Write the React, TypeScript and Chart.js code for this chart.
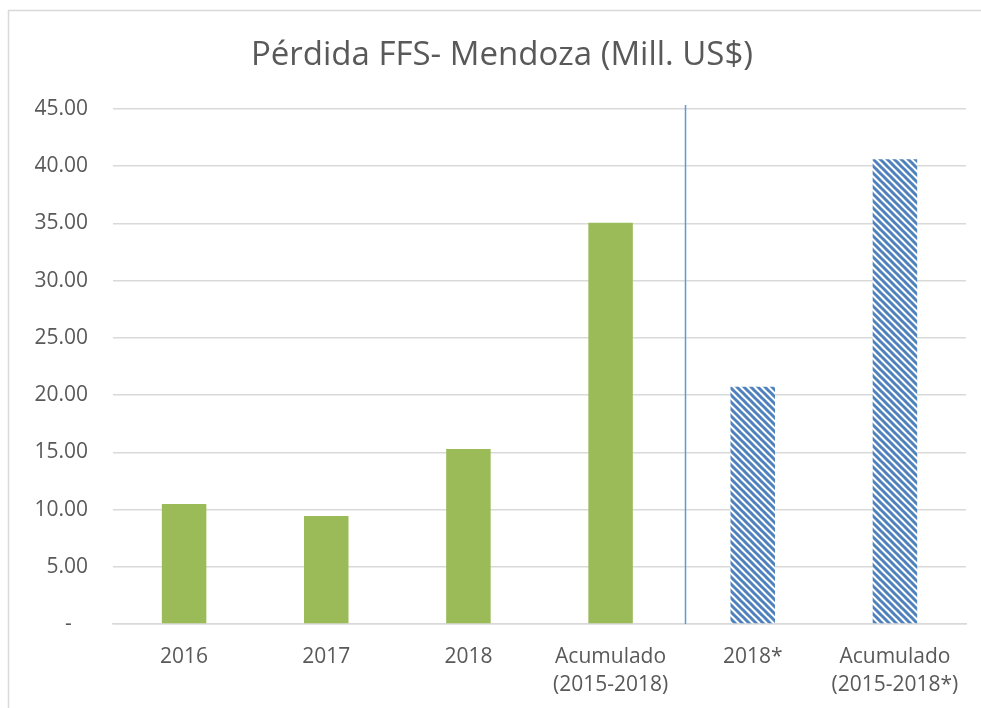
import React, { useEffect, useRef } from "react";
import { Chart, registerables } from "chart.js";

Chart.register(...registerables);

const title = "Pérdida FFS- Mendoza (Mill. US$)";
const categories: (string | string[])[] = [
  "2016",
  "2017",
  "2018",
  ["Acumulado", "(2015-2018)"],
  "2018*",
  ["Acumulado", "(2015-2018*)"],
];
const values = [10.48, 9.44, 15.29, 35.07, 20.74, 40.6];
const hatched = [false, false, false, false, true, true];
const yMin = 0;
const yMax = 45;
const yStep = 5;

const FONT = "'Open Sans', sans-serif";
const TEXT = "#595959";
const GREEN = "#9bbb59";
const BLUE = "#4f81bd";

function makePattern(): CanvasPattern | string {
  const c = document.createElement("canvas");
  c.width = 7;
  c.height = 7;
  const ctx = c.getContext("2d");
  if (!ctx) return BLUE;
  ctx.fillStyle = "#ffffff";
  ctx.fillRect(0, 0, 7, 7);
  ctx.strokeStyle = BLUE;
  ctx.lineWidth = 3;
  ctx.beginPath();
  for (const k of [-7, 0, 7]) {
    ctx.moveTo(k - 1, -1);
    ctx.lineTo(k + 8, 8);
  }
  ctx.stroke();
  return ctx.createPattern(c, "repeat") || BLUE;
}

export default function App() {
  const ref = useRef<HTMLCanvasElement | null>(null);

  useEffect(() => {
    if (!ref.current) return;
    const pattern = makePattern();
    const frame = {
      id: "frame",
      beforeDraw(chart: any) {
        const ctx = chart.ctx;
        ctx.save();
        ctx.fillStyle = "#ffffff";
        ctx.fillRect(0, 0, chart.width, chart.height);
        ctx.strokeStyle = "#d9d9d9";
        ctx.lineWidth = 1.5;
        ctx.strokeRect(8.5, 10.5, 2000, 2000);
        ctx.fillStyle = TEXT;
        ctx.font = `33px ${FONT}`;
        ctx.textAlign = "center";
        ctx.textBaseline = "middle";
        ctx.fillText(title, 502, 56);
        ctx.restore();
      },
      afterDatasetsDraw(chart: any) {
        const x = chart.scales.x;
        const area = chart.chartArea;
        const px = (x.getPixelForValue(3) + x.getPixelForValue(4)) / 2;
        const ctx = chart.ctx;
        ctx.save();
        ctx.strokeStyle = "#5b9bd5";
        ctx.lineWidth = 1.5;
        ctx.beginPath();
        ctx.moveTo(Math.round(px) + 3.5, area.top - 4);
        ctx.lineTo(Math.round(px) + 3.5, area.bottom);
        ctx.stroke();
        ctx.restore();
      },
    };

    const chart = new Chart(ref.current, {
      type: "bar",
      data: {
        labels: categories,
        datasets: [
          {
            data: values,
            backgroundColor: hatched.map((h) => (h ? pattern : GREEN)) as any,
            borderWidth: 0,
            barPercentage: 0.313,
            categoryPercentage: 1,
          },
        ],
      },
      options: {
        responsive: false,
        animation: false,
        layout: { padding: { left: 0, top: 109, right: 15, bottom: 0 } },
        plugins: {
          legend: { display: false },
          tooltip: { enabled: false },
          title: { display: false },
        },
        scales: {
          x: {
            grid: { display: false, drawTicks: false },
            border: { color: "#d9d9d9", width: 1.5 },
            ticks: {
              color: TEXT,
              font: { family: FONT, size: 21, lineHeight: 1.33 },
              padding: 19,
              maxRotation: 0,
              autoSkip: false,
            },
            afterFit(scale: any) {
              scale.height = 84;
            },
          },
          y: {
            min: yMin,
            max: yMax,
            grid: { color: "#d9d9d9", lineWidth: 1.5, drawTicks: false },
            border: { display: false },
            ticks: {
              stepSize: yStep,
              color: TEXT,
              font: { family: FONT, size: 21 },
              padding: 25,
              callback: (v: any) => (Number(v) === 0 ? "-   " : Number(v).toFixed(2)),
            },
            afterFit(scale: any) {
              scale.width = 113;
            },
          },
        },
      },
      plugins: [frame],
    });
    return () => chart.destroy();
  }, []);

  return (
    <div style={{ position: "fixed", left: 0, top: 0, width: 981, height: 708 }}>
      <canvas ref={ref} width={981} height={708} />
    </div>
  );
}
